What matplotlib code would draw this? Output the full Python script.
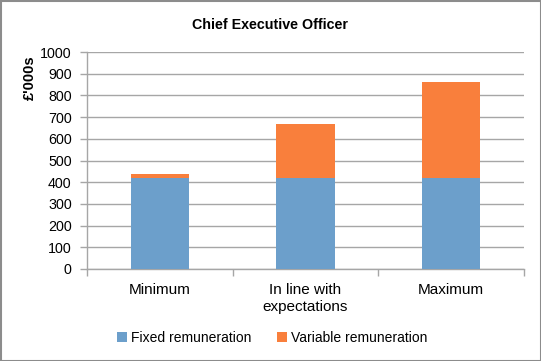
import matplotlib
matplotlib.use("Agg")
import matplotlib.pyplot as plt
from matplotlib.patches import Rectangle
import numpy as np

plt.rcParams['font.family'] = ['Liberation Sans', 'DejaVu Sans']

categories = ["Minimum", "In line with\nexpectations", "Maximum"]
fixed = [420, 420, 420]
variable = [20, 250, 440]
series_names = ["Fixed remuneration", "Variable remuneration"]
colors = ["#6C9FCB", "#F97F3C"]
yticks = list(range(0, 1001, 100))

fig = plt.figure(figsize=(5.41, 3.61), dpi=100)
ax = fig.add_axes([87/541, 1-269/361, (524-87)/541, (269-52)/361])

x = np.arange(len(categories))
ax.bar(x, fixed, width=0.4, color=colors[0], label=series_names[0], zorder=3)
ax.bar(x, variable, width=0.4, bottom=fixed, color=colors[1], label=series_names[1], zorder=3)

ax.set_xlim(-0.5, len(categories) - 0.5)
ax.set_ylim(0, 1000)
ax.set_yticks(yticks)
ax.set_yticklabels([str(v) for v in yticks], fontsize=10.3)
ax.yaxis.grid(True, color="#A6A6A6", linewidth=1, zorder=0)
ax.set_axisbelow(True)

ax.set_xticks(x)
ax.set_xticklabels(categories, fontsize=11, linespacing=1.25, va='top')
ax.tick_params(axis='x', length=0, pad=10)
ax.set_xticks(np.arange(-0.5, len(categories)), minor=True)
ax.tick_params(axis='x', which='minor', length=5, color="#A6A6A6", width=1)
ax.tick_params(axis='y', length=5, color="#A6A6A6", width=1, pad=6)

for s in ['top', 'right']:
    ax.spines[s].set_visible(False)
for s in ['left', 'bottom']:
    ax.spines[s].set_color("#A6A6A6")
    ax.spines[s].set_linewidth(1)

fig.text(30/541, 1-78/361, "£'000s", rotation=90, ha='center', va='center',
         fontsize=10.5, fontweight='bold')
fig.text(0.5, 1-25/361, "Chief Executive Officer", ha='center', va='center',
         fontsize=10.3, fontweight='bold')

leg = fig.legend(loc='center', bbox_to_anchor=(272/541, 1-338/361), ncol=2, frameon=False,
                 fontsize=10, handlelength=0.75, handleheight=0.75, handletextpad=0.3,
                 columnspacing=1.8)

fig.patches.append(Rectangle((0.5/541, 0.5/361), 1-1/541, 1-1/361, transform=fig.transFigure,
                             fill=False, edgecolor="#8C8C8C", linewidth=1.5))

fig.savefig("out.png", dpi=100)
